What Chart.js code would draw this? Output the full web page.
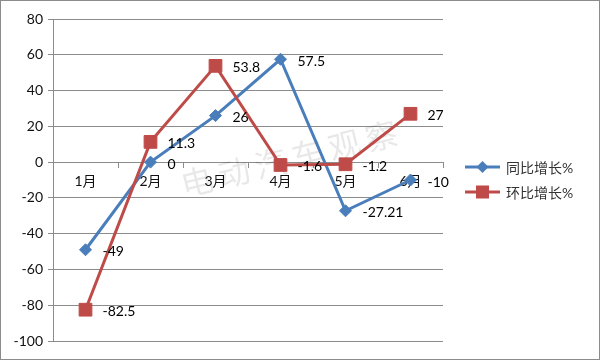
<!DOCTYPE html>
<html>
<head>
<meta charset="utf-8">
<script src="https://cdn.jsdelivr.net/npm/chart.js@4/dist/chart.umd.min.js"></script>
<style>
  html, body { margin: 0; padding: 0; background: #fff; }
  #wrap { width: 600px; height: 360px; position: relative; }
</style>
</head>
<body>
<div id="wrap"><canvas id="c" width="600" height="360"></canvas></div>
<script>
const categories = ['1月', '2月', '3月', '4月', '5月', '6月'];
const seriesNames = ['同比增长%', '环比增长%'];
const yoyValues = [-49, 0, 26, 57.5, -27.21, -10];
const momValues = [-82.5, 11.3, 53.8, -1.6, -1.2, 27];
const yTicks = [80, 60, 40, 20, 0, -20, -40, -60, -80, -100];

const FONT = 'Lato, "Noto Sans CJK SC", sans-serif';
const BLUE = '#4A7EBB';
const RED = '#BE4B48';
const GRID = '#8C8C8C';

const bgBorder = {
  id: 'bgBorder',
  beforeDraw(chart) {
    const ctx = chart.ctx;
    ctx.save();
    ctx.fillStyle = '#fff';
    ctx.fillRect(0, 0, chart.width, chart.height);
    ctx.restore();
  },
  afterDraw(chart) {
    const ctx = chart.ctx;
    ctx.save();
    ctx.strokeStyle = '#8C8C8C';
    ctx.lineWidth = 1;
    ctx.strokeRect(0.5, 0.5, chart.width - 1, chart.height - 1);
    ctx.restore();
  }
};

const watermark = {
  id: 'watermark',
  beforeDatasetsDraw(chart) {
    const ctx = chart.ctx;
    ctx.save();
    ctx.translate(292, 158);
    ctx.rotate(-14 * Math.PI / 180);
    ctx.font = '32px "Noto Sans CJK SC", sans-serif';
    try { ctx.letterSpacing = '6px'; } catch (e) {}
    ctx.fillStyle = 'rgba(0,0,0,0.09)';
    ctx.textAlign = 'center';
    ctx.textBaseline = 'middle';
    ctx.fillText('电动汽车观察', 0, 0);
    ctx.restore();
  }
};

const dataLabels = {
  id: 'dataLabels',
  afterDatasetsDraw(chart) {
    const ctx = chart.ctx;
    ctx.save();
    ctx.font = '14px ' + FONT;
    ctx.fillStyle = '#000';
    ctx.textAlign = 'left';
    ctx.textBaseline = 'middle';
    chart.data.datasets.forEach((ds, i) => {
      const meta = chart.getDatasetMeta(i);
      meta.data.forEach((pt, j) => {
        ctx.fillText(String(ds.data[j]), pt.x + 17, pt.y + 2);
      });
    });
    ctx.restore();
  }
};

const customLegend = {
  id: 'customLegend',
  afterDraw(chart) {
    const ctx = chart.ctx;
    ctx.save();
    chart.data.datasets.forEach((ds, i) => {
      const y = 167 + i * 25;
      ctx.strokeStyle = ds.borderColor;
      ctx.lineWidth = 3;
      ctx.beginPath();
      ctx.moveTo(465, y);
      ctx.lineTo(500, y);
      ctx.stroke();
      ctx.fillStyle = ds.borderColor;
      const cx = 482.5;
      if (ds.pointStyle === 'rectRot') {
        ctx.beginPath();
        ctx.moveTo(cx - 6, y); ctx.lineTo(cx, y - 6); ctx.lineTo(cx + 6, y); ctx.lineTo(cx, y + 6);
        ctx.closePath(); ctx.fill();
      } else {
        ctx.fillRect(cx - 6.5, y - 6.5, 13, 13);
      }
      ctx.font = '14px ' + FONT;
      ctx.fillStyle = '#333';
      ctx.textAlign = 'left';
      ctx.textBaseline = 'middle';
      ctx.fillText(ds.label, 506, y + 1);
    });
    ctx.restore();
  }
};

new Chart(document.getElementById('c'), {
  type: 'line',
  data: {
    labels: categories,
    datasets: [
      {
        label: seriesNames[0],
        data: yoyValues,
        borderColor: BLUE,
        backgroundColor: BLUE,
        borderWidth: 3,
        pointStyle: 'rectRot',
        pointRadius: 6,
        pointBorderWidth: 1,
        pointBackgroundColor: BLUE,
        pointBorderColor: BLUE,
        tension: 0,
        order: 1
      },
      {
        label: seriesNames[1],
        data: momValues,
        borderColor: RED,
        backgroundColor: RED,
        borderWidth: 3,
        pointStyle: 'rect',
        pointRadius: 9,
        pointBorderWidth: 1,
        pointBackgroundColor: RED,
        pointBorderColor: RED,
        tension: 0,
        order: 0
      }
    ]
  },
  options: {
    responsive: false,
    animation: false,
    devicePixelRatio: 1,
    layout: { padding: { left: 0, right: 157, top: 19, bottom: 19 } },
    plugins: {
      legend: { display: false },
      tooltip: { enabled: false }
    },
    scales: {
      x: {
        type: 'category',
        position: { y: 0 },
        offset: true,
        grid: {
          display: true,
          offset: true,
          drawOnChartArea: false,
          drawTicks: true,
          tickLength: 5,
          color: GRID
        },
        border: { display: true, color: GRID, width: 1 },
        ticks: {
          font: { family: FONT, size: 14 },
          color: '#111',
          padding: 6,
          maxRotation: 0,
          autoSkip: false
        }
      },
      y: {
        min: -100,
        max: 80,
        afterFit(scale) { scale.width = 53; },
        afterBuildTicks(scale) { scale.ticks = yTicks.map(v => ({ value: v })); },
        grid: {
          color: GRID,
          tickLength: 5,
          drawTicks: true
        },
        border: { display: true, color: GRID, width: 1 },
        ticks: {
          font: { family: FONT, size: 14 },
          color: '#111',
          padding: 5
        }
      }
    }
  },
  plugins: [bgBorder, watermark, dataLabels, customLegend]
});
</script>
</body>
</html>
